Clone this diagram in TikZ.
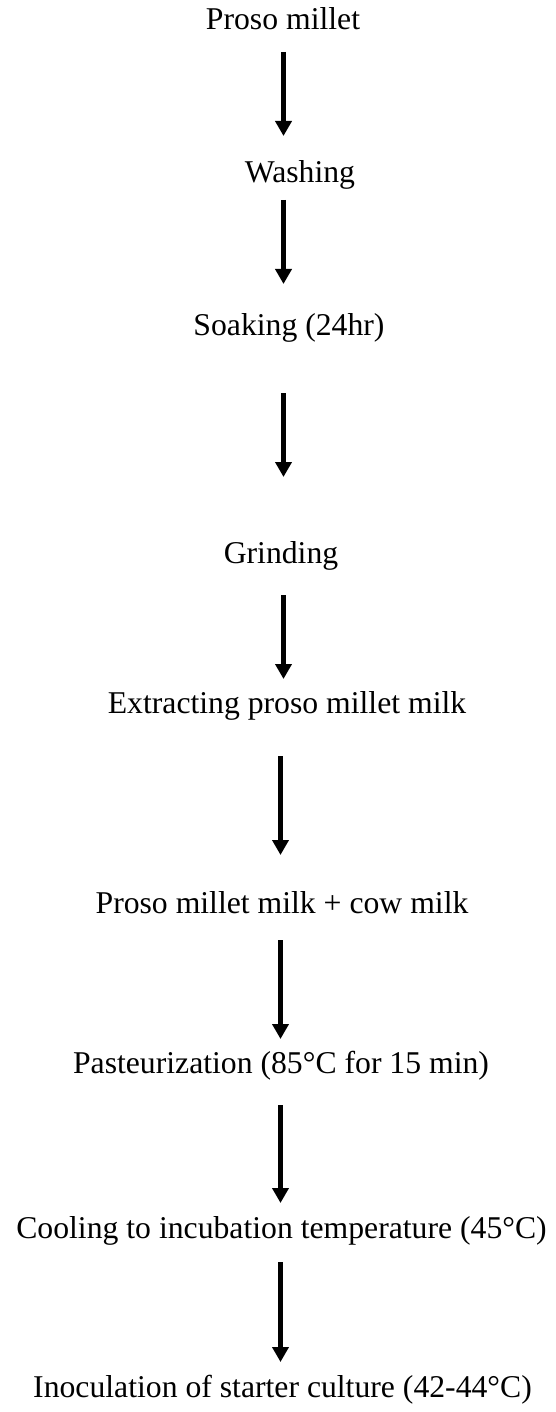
\documentclass[tikz,border=0pt]{standalone}
\usepackage{fontspec}
\setmainfont{Liberation Serif}
\usepackage{tikz}
\usetikzlibrary{arrows.meta}

\begin{document}
\begin{tikzpicture}[x=1pt,y=-1pt,
    stage/.style={anchor=base,inner sep=0pt,font=\fontsize{31.7}{38}\selectfont},
    flow/.style={line width=4.6pt,-{Triangle[width=16pt,length=15pt]}}]
  \useasboundingbox (0,0) rectangle (556,1412);
  % process stages (x = centre, y = baseline)
  \node[stage] (proso)    at (283,30)    {Proso millet};
  \node[stage] (washing)  at (300,183)   {Washing};
  \node[stage] (soaking)  at (289,335)   {Soaking (24hr)};
  \node[stage] (grinding) at (281,563)   {Grinding};
  \node[stage] (extract)  at (287,713)   {Extracting proso millet milk};
  \node[stage] (blend)    at (282,913)   {Proso millet milk + cow milk};
  \node[stage] (pasteur)  at (281,1073)  {Pasteurization (85°C for 15 min)};
  \node[stage] (cooling)  at (281.5,1238) {Cooling to incubation temperature (45°C)};
  \node[stage] (inoc)     at (282.5,1397) {Inoculation of starter culture (42-44°C)};
  % arrows between stages: number/x/top/tip
  \foreach \n/\x/\ya/\yb in {1/283.5/52/136, 2/283.5/200/284, 3/283.5/393/477, 4/283.5/595/679,
                             5/280.5/756/855, 6/280.5/940/1039, 7/280.5/1105/1203, 8/280.5/1262/1362}{
    \coordinate (top\n) at (\x,\ya);
    \coordinate (tip\n) at (\x,\yb);
    \draw[flow] (top\n) -- (tip\n);
  }
\end{tikzpicture}
\end{document}
